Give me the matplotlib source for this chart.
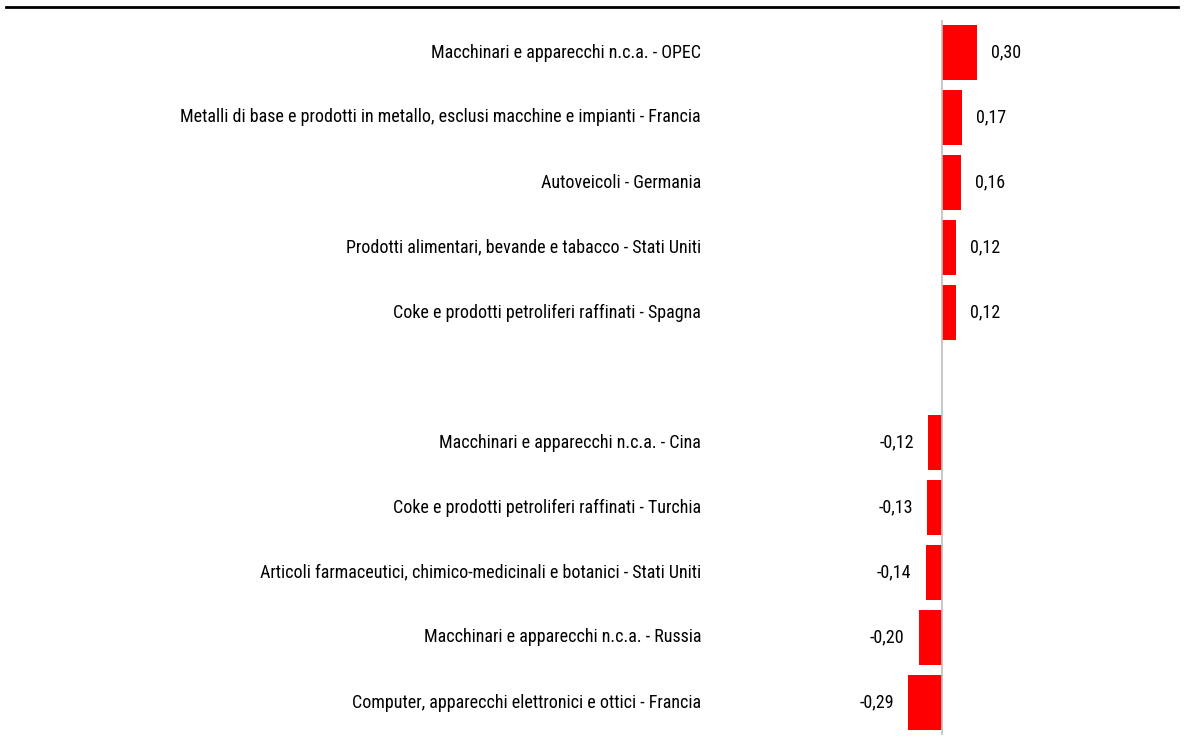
import matplotlib
matplotlib.use("Agg")
from matplotlib import pyplot as plt
from matplotlib.lines import Line2D

# top: largest positive contributions, bottom: largest negative
pos_labels = [
    "Macchinari e apparecchi n.c.a. - OPEC",
    "Metalli di base e prodotti in metallo, esclusi macchine e impianti - Francia",
    "Autoveicoli - Germania",
    "Prodotti alimentari, bevande e tabacco - Stati Uniti",
    "Coke e prodotti petroliferi raffinati - Spagna",
]
pos_values = [0.30, 0.17, 0.16, 0.12, 0.12]

neg_labels = [
    "Macchinari e apparecchi n.c.a. - Cina",
    "Coke e prodotti petroliferi raffinati - Turchia",
    "Articoli farmaceutici, chimico-medicinali e botanici - Stati Uniti",
    "Macchinari e apparecchi n.c.a. - Russia",
    "Computer, apparecchi elettronici e ottici - Francia",
]
neg_values = [-0.12, -0.13, -0.14, -0.20, -0.29]

plt.rcParams["font.family"] = ["Roboto Condensed", "DejaVu Sans"]
FS = 13

W, H = 1184, 744
fig = plt.figure(figsize=(W / 100, H / 100), dpi=100)
# axes spans the whole width; y from pixel 20 to 735
ax = fig.add_axes([0, (H - 735) / H, 1, (735 - 20) / H])

x0_px, scale = 942, 117.0
ax.set_xlim(-x0_px / scale, (W - x0_px) / scale)

labels = pos_labels + [""] + neg_labels
values = pos_values + [None] + neg_values
n = len(labels)
ax.set_ylim(n - 0.5, -0.5)

label_x = (701 - x0_px) / scale
off = 14 / scale
for i, (lab, v) in enumerate(zip(labels, values)):
    if v is None:
        continue
    ax.barh(i, v, height=0.86, color="#FF0000", zorder=2)
    ax.text(label_x, i, lab, ha="right", va="center", fontsize=FS, color="black")
    txt = f"{v:.2f}".replace(".", ",")
    if v >= 0:
        ax.text(v + off, i, txt, ha="left", va="center", fontsize=FS, color="black")
    else:
        ax.text(v - off, i, txt, ha="right", va="center", fontsize=FS, color="black")

ax.axvline(0, color="#BFBFBF", linewidth=1.2, zorder=3)
ax.axis("off")

fig.add_artist(Line2D([6 / W, 1178 / W], [1 - 7 / H, 1 - 7 / H],
                      transform=fig.transFigure, color="black", linewidth=2))

fig.savefig("out.png", dpi=100)
